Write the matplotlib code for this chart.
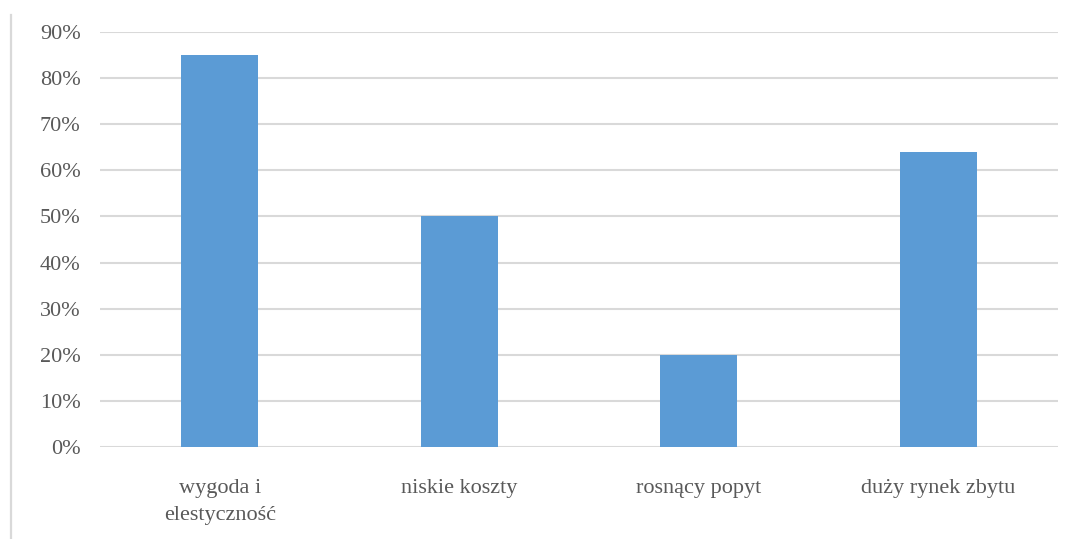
import matplotlib.pyplot as plt
from matplotlib.lines import Line2D
from matplotlib.ticker import PercentFormatter

categories = ["wygoda i\nelestyczność", "niskie koszty", "rosnący popyt", "duży rynek zbytu"]
shares = [0.85, 0.50, 0.20, 0.64]
yticks = [0.0, 0.1, 0.2, 0.3, 0.4, 0.5, 0.6, 0.7, 0.8, 0.9]

plt.rcParams['font.family'] = ['Liberation Serif', 'DejaVu Serif']
text_col = '#595959'
grid_col = '#d9d9d9'

fig = plt.figure(figsize=(10.73, 5.39), dpi=100)
ax = fig.add_axes([100 / 1073, 92 / 539, 958 / 1073, 415 / 539])

x = range(len(categories))
ax.bar(x, shares, width=0.32, color='#5b9bd5', zorder=3)

ax.set_xlim(-0.5, len(categories) - 0.5)
ax.set_ylim(0, 0.9)
ax.set_yticks(yticks)
ax.yaxis.set_major_formatter(PercentFormatter(1.0, decimals=0))
ax.set_xticks(list(x))
ax.set_xticklabels(categories, linespacing=1.6)

ax.grid(axis='y', color=grid_col, linewidth=1.5, zorder=0)
for s in ax.spines.values():
    s.set_visible(False)
ax.tick_params(axis='both', length=0, colors=text_col, labelsize=16)
ax.tick_params(axis='y', pad=14)
ax.tick_params(axis='x', pad=23)

# thin frame line on the left edge
fig.add_artist(Line2D([11 / 1073, 11 / 1073], [0, 1 - 15 / 539],
                      transform=fig.transFigure, color=grid_col, linewidth=1.6))

fig.savefig('out.png', dpi=100)
